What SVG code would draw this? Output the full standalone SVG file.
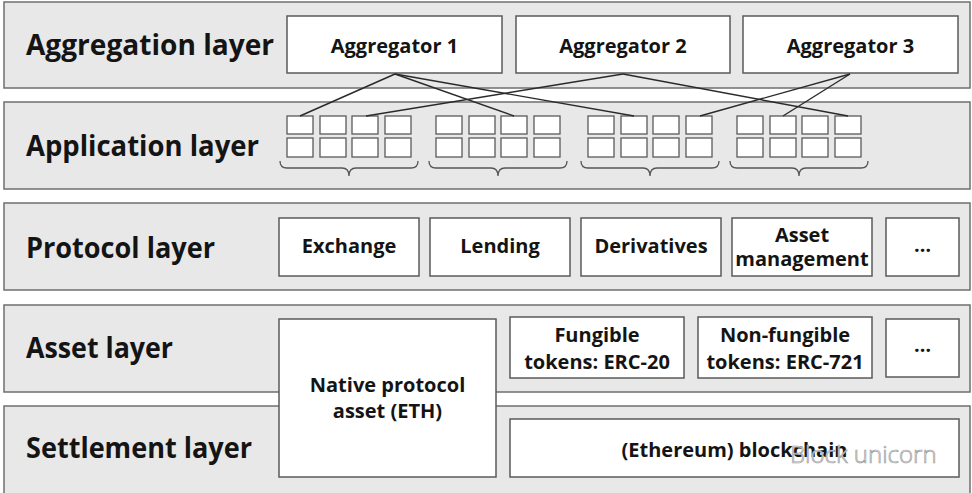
<svg xmlns="http://www.w3.org/2000/svg" width="972" height="493" viewBox="0 0 972 493">
<style>
.band{fill:#e8e8e8;stroke:#6f6f6f;stroke-width:1.5}
.box{fill:#fff;stroke:#5a5a5a;stroke-width:1.5}
.sb{fill:#fff;stroke:#5a5a5a;stroke-width:1.3}
.lbl{font-family:"Open Sans","Liberation Sans",sans-serif;font-weight:700;font-size:28px;fill:#141414}
.t{font-family:"Open Sans","Liberation Sans",sans-serif;font-weight:700;font-size:20px;fill:#141414;text-anchor:middle}
.con{stroke:#2a2a2a;stroke-width:1.4;fill:none}
.brace{stroke:#555;stroke-width:1.3;fill:none}
.wm{font-family:"Open Sans","Liberation Sans",sans-serif;font-weight:300;font-size:24px;fill:#fff;stroke:#9a9a9a;stroke-width:0.7}
</style>
<rect width="972" height="493" fill="#fff"/>
<g id="aggregation-layer">
<rect class="band" x="4" y="2" width="966" height="86"/>
<text class="lbl" x="26" y="55" textLength="248" lengthAdjust="spacingAndGlyphs">Aggregation layer</text>
</g>
<g id="application-layer">
<rect class="band" x="4" y="102" width="966" height="87"/>
<text class="lbl" x="26" y="156" textLength="233" lengthAdjust="spacingAndGlyphs">Application layer</text>
</g>
<g id="protocol-layer">
<rect class="band" x="4" y="203" width="966" height="87"/>
<text class="lbl" x="26" y="258" textLength="189" lengthAdjust="spacingAndGlyphs">Protocol layer</text>
</g>
<g id="asset-layer">
<rect class="band" x="4" y="305" width="966" height="87"/>
<text class="lbl" x="26" y="358" textLength="147" lengthAdjust="spacingAndGlyphs">Asset layer</text>
</g>
<g id="settlement-layer">
<rect class="band" x="4" y="406" width="966" height="90"/>
<text class="lbl" x="26" y="458" textLength="226" lengthAdjust="spacingAndGlyphs">Settlement layer</text>
</g>
<g id="aggregator-1"><rect class="box" x="287" y="16" width="215" height="57"/><text class="t" x="394.5" y="53">Aggregator 1</text></g>
<g id="aggregator-2"><rect class="box" x="516" y="16" width="214" height="57"/><text class="t" x="623" y="53">Aggregator 2</text></g>
<g id="aggregator-3"><rect class="box" x="743" y="16" width="215" height="57"/><text class="t" x="850.5" y="53">Aggregator 3</text></g>
<defs>
<g id="appgrp">
<rect class="sb" x="0" y="116" width="26" height="18"/><rect class="sb" x="33" y="116" width="26" height="18"/><rect class="sb" x="65" y="116" width="26" height="18"/><rect class="sb" x="98" y="116" width="26" height="18"/>
<rect class="sb" x="0" y="138" width="26" height="19"/><rect class="sb" x="33" y="138" width="26" height="19"/><rect class="sb" x="65" y="138" width="26" height="19"/><rect class="sb" x="98" y="138" width="26" height="19"/>
<path class="brace" d="M-7,161 Q-7,168 0,168 L55,168 Q62,168 62,176 Q62,168 69,168 L124,168 Q131,168 131,161"/>
</g>
</defs>
<g id="apps-1"><use href="#appgrp" x="287"/></g>
<g id="apps-2"><use href="#appgrp" x="436"/></g>
<g id="apps-3"><use href="#appgrp" x="588"/></g>
<g id="apps-4"><use href="#appgrp" x="737"/></g>
<g id="connectors">
<line class="con" x1="395" y1="74" x2="300" y2="116"/>
<line class="con" x1="395" y1="74" x2="514" y2="116"/>
<line class="con" x1="395" y1="74" x2="634" y2="116"/>
<line class="con" x1="623" y1="74" x2="366" y2="116"/>
<line class="con" x1="623" y1="74" x2="848" y2="116"/>
<line class="con" x1="850" y1="74" x2="700" y2="116"/>
<line class="con" x1="850" y1="74" x2="783" y2="116"/>
</g>
<g id="exchange"><rect class="box" x="279" y="218" width="140" height="58"/><text class="t" x="349" y="253">Exchange</text></g>
<g id="lending"><rect class="box" x="430" y="218" width="140" height="58"/><text class="t" x="500" y="253">Lending</text></g>
<g id="derivatives"><rect class="box" x="581" y="218" width="140" height="58"/><text class="t" x="651" y="253">Derivatives</text></g>
<g id="asset-management"><rect class="box" x="732" y="218" width="140" height="58"/><text class="t" x="802" y="242">Asset</text><text class="t" x="802" y="266">management</text></g>
<g id="protocol-more"><rect class="box" x="886" y="218" width="73" height="58"/><text class="t" x="922.5" y="252">…</text></g>
<g id="native-asset"><rect class="box" x="279" y="319" width="217" height="158"/><text class="t" x="387.5" y="392">Native protocol</text><text class="t" x="387.5" y="418">asset (ETH)</text></g>
<g id="fungible"><rect class="box" x="510" y="317" width="174" height="61"/><text class="t" x="597" y="342">Fungible</text><text class="t" x="597" y="369">tokens: ERC-20</text></g>
<g id="non-fungible"><rect class="box" x="698" y="317" width="174" height="61"/><text class="t" x="785" y="342">Non-fungible</text><text class="t" x="785" y="369">tokens: ERC-721</text></g>
<g id="asset-more"><rect class="box" x="886" y="319" width="73" height="58"/><text class="t" x="922.5" y="352">…</text></g>
<g id="blockchain"><rect class="box" x="510" y="419" width="449" height="58"/><text class="t" x="734.5" y="457">(Ethereum) blockchain</text></g>
<text class="wm" x="790" y="463">Block unicorn</text>
</svg>
